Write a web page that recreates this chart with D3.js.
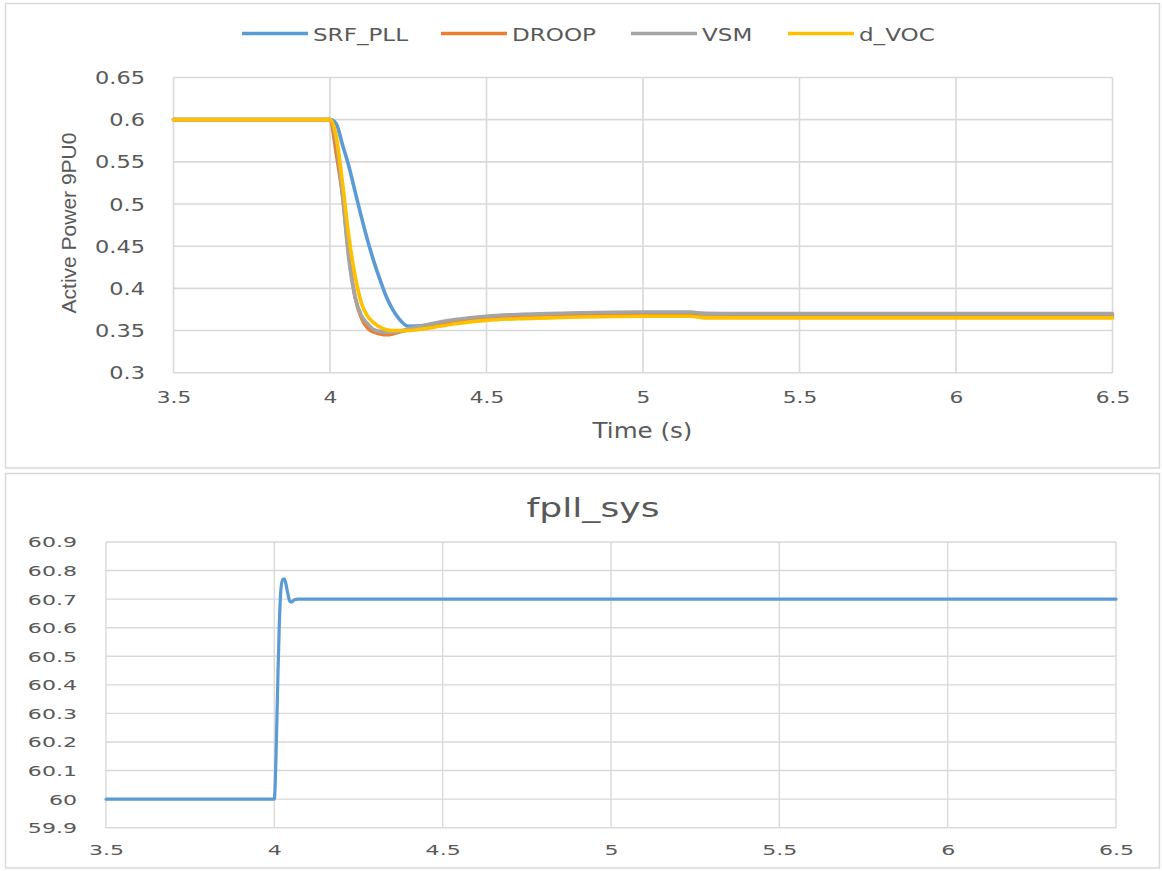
<!DOCTYPE html>
<html><head><meta charset="utf-8">
<script src="https://cdn.jsdelivr.net/npm/d3@7"></script>
<style>body{margin:0;background:#fff} svg{display:block}</style>
</head><body>
<script>
// ---------- data: top chart (Active Power) ----------
const timeP = [3.5, 3.6, 3.7, 3.8, 3.9, 4.0, 4.02, 4.04, 4.06, 4.08, 4.10, 4.12, 4.14, 4.16, 4.18, 4.20, 4.22, 4.25, 4.3, 4.35, 4.4, 4.5, 4.6, 4.7, 4.8, 5.0, 5.1, 5.15, 5.2, 5.5, 6.0, 6.5];
const srfPll = [0.6, 0.6, 0.6, 0.6, 0.6, 0.6, 0.595, 0.57, 0.545, 0.515, 0.485, 0.457, 0.432, 0.41, 0.39, 0.375, 0.364, 0.355, 0.356, 0.359, 0.362, 0.366, 0.368, 0.369, 0.370, 0.371, 0.371, 0.371, 0.370, 0.369, 0.369, 0.369];
const droop  = [0.6, 0.6, 0.6, 0.6, 0.6, 0.6, 0.56, 0.51, 0.44, 0.39, 0.365, 0.353, 0.348, 0.346, 0.345, 0.346, 0.348, 0.351, 0.354, 0.357, 0.360, 0.364, 0.366, 0.367, 0.368, 0.368, 0.368, 0.368, 0.366, 0.366, 0.366, 0.366];
const vsm    = [0.6, 0.6, 0.6, 0.6, 0.6, 0.6, 0.575, 0.51, 0.435, 0.39, 0.368, 0.358, 0.351, 0.349, 0.348, 0.348, 0.349, 0.352, 0.356, 0.360, 0.363, 0.367, 0.369, 0.370, 0.371, 0.372, 0.372, 0.372, 0.370, 0.370, 0.370, 0.370];
const dVoc   = [0.6, 0.6, 0.6, 0.6, 0.6, 0.6, 0.58, 0.525, 0.462, 0.415, 0.383, 0.367, 0.359, 0.354, 0.351, 0.350, 0.350, 0.350, 0.352, 0.355, 0.358, 0.362, 0.364, 0.365, 0.366, 0.367, 0.367, 0.367, 0.365, 0.365, 0.365, 0.365];
const seriesNames = ["SRF_PLL", "DROOP", "VSM", "d_VOC"];
const seriesColors = ["#5B9BD5", "#ED7D31", "#A5A5A5", "#FFC000"];
const topXTicks = [3.5, 4, 4.5, 5, 5.5, 6, 6.5];
const topXLabels = ["3.5", "4", "4.5", "5", "5.5", "6", "6.5"];
const topYTicks = [0.3, 0.35, 0.4, 0.45, 0.5, 0.55, 0.6, 0.65];
const topYLabels = ["0.3", "0.35", "0.4", "0.45", "0.5", "0.55", "0.6", "0.65"];

// ---------- data: bottom chart (fpll_sys) ----------
const timeF = [3.5, 4.0, 4.005, 4.01, 4.015, 4.02, 4.025, 4.03, 4.035, 4.04, 4.045, 4.05, 4.055, 4.06, 4.07, 4.08, 6.5];
const fpll  = [60.0, 60.0, 60.15, 60.4, 60.62, 60.74, 60.77, 60.77, 60.75, 60.72, 60.695, 60.69, 60.693, 60.698, 60.70, 60.70, 60.70];
const botXTicks = [3.5, 4, 4.5, 5, 5.5, 6, 6.5];
const botXLabels = ["3.5", "4", "4.5", "5", "5.5", "6", "6.5"];
const botYTicks = [59.9, 60.0, 60.1, 60.2, 60.3, 60.4, 60.5, 60.6, 60.7, 60.8, 60.9];
const botYLabels = ["59.9", "60", "60.1", "60.2", "60.3", "60.4", "60.5", "60.6", "60.7", "60.8", "60.9"];

const W = 1162, H = 871;
const TXT = "#595959", GRID = "#D9D9D9";
const FONT = "DejaVu Sans";

const svg = d3.select("body").append("svg").attr("width", W).attr("height", H);
svg.append("rect").attr("width", W).attr("height", H).attr("fill", "#fff");

// panel borders
svg.append("rect").attr("x", 5.5).attr("y", 3.5).attr("width", 1154).attr("height", 464.5)
  .attr("fill", "#fff").attr("stroke", GRID).attr("stroke-width", 1.5);
svg.append("rect").attr("x", 5.5).attr("y", 473.5).attr("width", 1154).attr("height", 394.5)
  .attr("fill", "#fff").attr("stroke", GRID).attr("stroke-width", 1.5);

// ================= TOP =================
const xT = d3.scaleLinear().domain([3.5, 6.5]).range([173.5, 1112.5]);
const yT = d3.scaleLinear().domain([0.3, 0.65]).range([372.7, 77.5]);
const gT = svg.append("g");

// grid
gT.append("g").selectAll("line").data(topYTicks).join("line")
  .attr("x1", xT(3.5)).attr("x2", xT(6.5)).attr("y1", d => yT(d)).attr("y2", d => yT(d))
  .attr("stroke", GRID).attr("stroke-width", 1.6);
gT.append("g").selectAll("line").data(topXTicks).join("line")
  .attr("y1", yT(0.3)).attr("y2", yT(0.65)).attr("x1", d => xT(d)).attr("x2", d => xT(d))
  .attr("stroke", GRID).attr("stroke-width", 1.6);

// axes labels
const sxT = 1.33;
const yAxT = gT.append("g").attr("transform", `translate(${xT(3.5)},0)`)
  .call(d3.axisLeft(yT).tickValues(topYTicks).tickFormat((d, i) => topYLabels[i]).tickSize(0).tickPadding(0));
yAxT.select(".domain").remove();
yAxT.selectAll("text").attr("font-family", FONT).attr("font-size", 16.9).attr("fill", TXT)
  .attr("x", -28.5 / sxT).attr("dy", "0.36em").attr("transform", `scale(${sxT},1)`);

const sxX = 1.36;
const xAxT = gT.append("g").attr("transform", `translate(0,${yT(0.3)})`)
  .call(d3.axisBottom(xT).tickValues(topXTicks).tickFormat((d, i) => topXLabels[i]).tickSize(0).tickPadding(0));
xAxT.select(".domain").remove();
xAxT.selectAll("text").attr("font-family", FONT).attr("font-size", 16).attr("fill", TXT)
  .attr("y", 30.6).attr("dy", 0).attr("transform", `scale(${sxX},1)`);

// axis titles
gT.append("text").attr("font-family", FONT).attr("font-size", 21).attr("fill", TXT)
  .attr("text-anchor", "middle")
  .attr("transform", `translate(642.5,438) scale(1.17,1)`).text("Time (s)");
gT.append("text").attr("font-family", "Liberation Sans Narrow, Liberation Sans, sans-serif").attr("font-size", 21).attr("fill", TXT)
  .attr("text-anchor", "middle")
  .attr("transform", `translate(76,223) rotate(-90)`).text("Active Power 9PU0");

// series
const seriesVals = [srfPll, droop, vsm, dVoc];
const lineT = d3.line().x(d => xT(d[0])).y(d => yT(d[1])).curve(d3.curveMonotoneX);
seriesVals.forEach((vals, k) => {
  gT.append("path").datum(timeP.map((t, i) => [t, vals[i]]))
    .attr("d", lineT).attr("fill", "none").attr("stroke", seriesColors[k])
    .attr("stroke-width", 3.6).attr("stroke-linejoin", "round").attr("stroke-linecap", "round");
});

// legend
const legendX = [242, 441, 631, 788];
const leg = gT.append("g");
seriesNames.forEach((name, k) => {
  const x0 = legendX[k];
  leg.append("line").attr("x1", x0).attr("x2", x0 + 66).attr("y1", 33.5).attr("y2", 33.5)
    .attr("stroke", seriesColors[k]).attr("stroke-width", 3.6);
  leg.append("text").attr("font-family", FONT).attr("font-size", 18.3).attr("fill", TXT)
    .attr("transform", `translate(${x0 + 71},40.5) scale(1.26,1)`).text(name);
});

// ================= BOTTOM =================
const xB = d3.scaleLinear().domain([3.5, 6.5]).range([106, 1116]);
const yB = d3.scaleLinear().domain([59.9, 60.9]).range([827.7, 542]);
const gB = svg.append("g");

gB.append("g").selectAll("line").data(botYTicks).join("line")
  .attr("x1", xB(3.5)).attr("x2", xB(6.5)).attr("y1", d => yB(d)).attr("y2", d => yB(d))
  .attr("stroke", GRID).attr("stroke-width", 1.4);
gB.append("g").selectAll("line").data(botXTicks).join("line")
  .attr("y1", yB(59.9)).attr("y2", yB(60.9)).attr("x1", d => xB(d)).attr("x2", d => xB(d))
  .attr("stroke", GRID).attr("stroke-width", 1.4);

const sxB = 1.6;
const yAxB = gB.append("g").attr("transform", `translate(${xB(3.5)},0)`)
  .call(d3.axisLeft(yB).tickValues(botYTicks).tickFormat((d, i) => botYLabels[i]).tickSize(0).tickPadding(0));
yAxB.select(".domain").remove();
yAxB.selectAll("text").attr("font-family", FONT).attr("font-size", 13.8).attr("fill", TXT)
  .attr("x", -29 / sxB).attr("dy", "0.36em").attr("transform", `scale(${sxB},1)`);

const xAxB = gB.append("g").attr("transform", `translate(0,${yB(59.9)})`)
  .call(d3.axisBottom(xB).tickValues(botXTicks).tickFormat((d, i) => botXLabels[i]).tickSize(0).tickPadding(0));
xAxB.select(".domain").remove();
xAxB.selectAll("text").attr("font-family", FONT).attr("font-size", 13.8).attr("fill", TXT)
  .attr("y", 27.5).attr("dy", 0).attr("transform", `scale(${sxB},1)`);

gB.append("text").attr("font-family", FONT).attr("font-size", 27).attr("fill", TXT)
  .attr("text-anchor", "middle")
  .attr("transform", `translate(593,516.5) scale(1.34,1)`).text("fpll_sys");

const lineB = d3.line().x(d => xB(d[0])).y(d => yB(d[1])).curve(d3.curveMonotoneX);
gB.append("path").datum(timeF.map((t, i) => [t, fpll[i]]))
  .attr("d", lineB).attr("fill", "none").attr("stroke", "#5B9BD5")
  .attr("stroke-width", 3.2).attr("stroke-linejoin", "round").attr("stroke-linecap", "round");
</script>
</body></html>
